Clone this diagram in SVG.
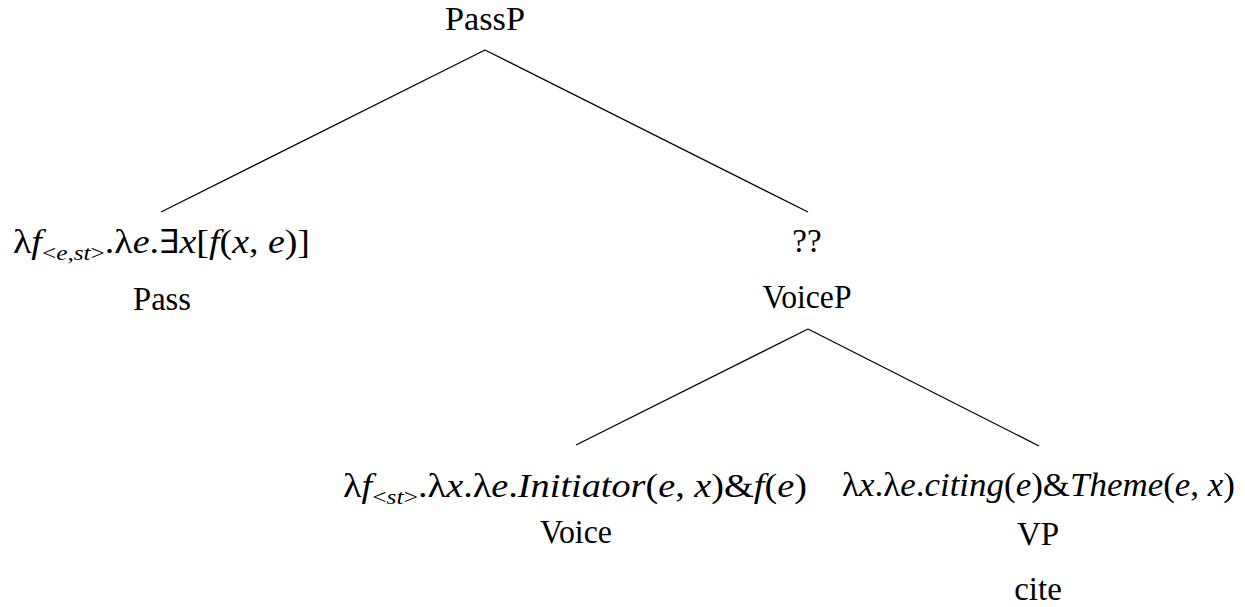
<svg xmlns="http://www.w3.org/2000/svg" width="1245" height="607" viewBox="0 0 1245 607" font-family="'Liberation Serif', 'Times New Roman', Times, 'DejaVu Serif', 'Noto Serif', serif">
<style>
text{font-family:'Liberation Serif','Times New Roman',Times,'DejaVu Serif',serif;font-size:33px;fill:#000}
.c{text-anchor:middle}
.i{font-style:italic}
.s{font-size:22px}
line{stroke:#000;stroke-width:1.3}
</style>
<rect width="1245" height="607" fill="#fff"/>
<g id="connectors">
<line x1="485" y1="50" x2="161" y2="212"/>
<line x1="485" y1="50" x2="808" y2="212"/>
<line x1="808" y1="329" x2="576" y2="445"/>
<line x1="808" y1="329" x2="1039" y2="446"/>
</g>
<g id="passp"><text class="c" x="485" y="30" textLength="80" lengthAdjust="spacingAndGlyphs">PassP</text></g>
<g id="pass">
<text x="13" y="253" textLength="297" lengthAdjust="spacingAndGlyphs">λ<tspan class="i">f</tspan><tspan class="s" dy="7">&lt;</tspan><tspan class="s i">e</tspan><tspan class="s">,</tspan><tspan class="s i">st</tspan><tspan class="s">&gt;</tspan><tspan dy="-7">.λ</tspan><tspan class="i">e</tspan>.∃<tspan class="i">x</tspan>[<tspan class="i">f</tspan>(<tspan class="i">x</tspan>, <tspan class="i">e</tspan>)]</text>
<text class="c" x="162" y="310" textLength="58" lengthAdjust="spacingAndGlyphs">Pass</text>
</g>
<g id="qq">
<text class="c" x="807" y="252">??</text>
<text class="c" x="807" y="308" textLength="89" lengthAdjust="spacingAndGlyphs">VoiceP</text>
</g>
<g id="voice">
<text x="343" y="497" textLength="464" lengthAdjust="spacingAndGlyphs">λ<tspan class="i">f</tspan><tspan class="s" dy="7">&lt;</tspan><tspan class="s i">st</tspan><tspan class="s">&gt;</tspan><tspan dy="-7">.λ</tspan><tspan class="i">x</tspan>.λ<tspan class="i">e</tspan>.<tspan class="i">Initiator</tspan>(<tspan class="i">e</tspan>, <tspan class="i">x</tspan>)&amp;<tspan class="i">f</tspan>(<tspan class="i">e</tspan>)</text>
<text class="c" x="576" y="543" textLength="72" lengthAdjust="spacingAndGlyphs">Voice</text>
</g>
<g id="vp">
<text x="842" y="496" textLength="393" lengthAdjust="spacingAndGlyphs">λ<tspan class="i">x</tspan>.λ<tspan class="i">e</tspan>.<tspan class="i">citing</tspan>(<tspan class="i">e</tspan>)&amp;<tspan class="i">Theme</tspan>(<tspan class="i">e</tspan>, <tspan class="i">x</tspan>)</text>
<text class="c" x="1038" y="545">VP</text>
<text class="c" x="1038" y="600">cite</text>
</g>
</svg>
